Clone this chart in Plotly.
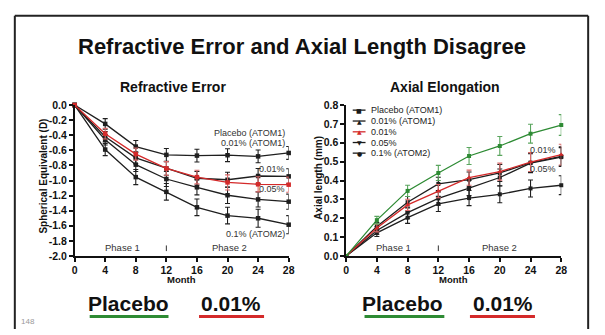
import plotly.graph_objects as go

W, H = 605, 335
FONT = "Liberation Sans, Arial, sans-serif"

months = [0, 4, 8, 12, 16, 20, 24, 28]

# ---- Refractive error (spherical equivalent, D) ----
re_atom1 = [0.0, -0.25, -0.55, -0.66, -0.67, -0.665, -0.68, -0.635]
re_001_black = [0.0, -0.42, -0.70, -0.84, -0.97, -0.99, -0.94, -0.945]
re_001_red = [0.0, -0.38, -0.65, -0.84, -0.955, -1.025, -1.05, -1.055]
re_005 = [0.0, -0.46, -0.79, -0.98, -1.09, -1.195, -1.25, -1.28]
re_01_atom2 = [0.0, -0.59, -0.955, -1.15, -1.355, -1.465, -1.50, -1.585]
re_err_atom1 = [0, 0.07, 0.08, 0.085, 0.085, 0.085, 0.085, 0.085]
re_err_001_black = [0, 0.07, 0.08, 0.09, 0.09, 0.10, 0.10, 0.10]
re_err_001_red = [0, 0.07, 0.08, 0.09, 0.09, 0.10, 0.10, 0.10]
re_err_005 = [0, 0.07, 0.09, 0.10, 0.10, 0.11, 0.10, 0.10]
re_err_01_atom2 = [0, 0.08, 0.10, 0.11, 0.11, 0.11, 0.12, 0.12]

# ---- Axial elongation (mm) ----
al_placebo = [0.0, 0.19, 0.345, 0.44, 0.53, 0.583, 0.648, 0.694]
al_001_atom1 = [0.0, 0.157, 0.285, 0.382, 0.405, 0.44, 0.495, 0.528]
al_001 = [0.0, 0.148, 0.271, 0.344, 0.415, 0.447, 0.498, 0.537]
al_005 = [0.0, 0.135, 0.23, 0.305, 0.36, 0.416, 0.492, 0.524]
al_01_atom2 = [0.0, 0.123, 0.203, 0.276, 0.307, 0.327, 0.358, 0.375]
al_err_placebo = [0, 0.02, 0.03, 0.04, 0.045, 0.05, 0.05, 0.055]
al_err_001_atom1 = [0, 0.02, 0.03, 0.035, 0.04, 0.045, 0.05, 0.05]
al_err_001 = [0, 0.02, 0.03, 0.035, 0.04, 0.045, 0.05, 0.055]
al_err_005 = [0, 0.02, 0.03, 0.035, 0.04, 0.045, 0.05, 0.05]
al_err_01_atom2 = [0, 0.02, 0.03, 0.04, 0.04, 0.045, 0.045, 0.05]

re_tickvals = [0.0, -0.2, -0.4, -0.6, -0.8, -1.0, -1.2, -1.4, -1.6, -1.8, -2.0]
re_ticktext = ["0.0", "-0.2", "-0.4", "-0.6", "-0.8", "-1.0", "-1.2", "-1.4", "-1.6", "-1.8", "-2.0"]
al_tickvals = [0.0, 0.1, 0.2, 0.3, 0.4, 0.5, 0.6, 0.7, 0.8]
al_ticktext = ["0.0", "0.1", "0.2", "0.3", "0.4", "0.5", "0.6", "0.7", "0.8"]

legend_names = ["Placebo (ATOM1)", "0.01% (ATOM1)", "0.01%", "0.05%", "0.1% (ATOM2)"]
legend_glyphs = ["■", "▲", "▲", "▼", "●"]
legend_colors = ["#1a1a1a", "#1a1a1a", "#d42a2a", "#1a1a1a", "#1a1a1a"]

BLACK = "#1f1f1f"
RED = "#d42a2a"
GREEN = "#2e8b34"


def fx(x):
    return x / W


def fy(y):
    return 1 - y / H


fig = go.Figure()


def add_series(y, err, color, xa, ya, symbol="square", msize=4.5, ecolor=None):
    fig.add_trace(go.Scatter(
        x=months, y=y, mode="lines+markers", xaxis=xa, yaxis=ya,
        line=dict(color=color, width=1.3),
        marker=dict(color=color, size=msize, symbol=symbol),
        error_y=dict(type="data", array=err, visible=True, color=ecolor or color,
                     thickness=1.1, width=2.5),
        cliponaxis=False, showlegend=False, hoverinfo="x+y"))


# left panel
add_series(re_atom1, re_err_atom1, BLACK, "x", "y")
add_series(re_01_atom2, re_err_01_atom2, BLACK, "x", "y")
add_series(re_005, re_err_005, BLACK, "x", "y")
add_series(re_001_black, re_err_001_black, BLACK, "x", "y")
add_series(re_001_red, re_err_001_red, RED, "x", "y", ecolor="#d86a6a")

# right panel
add_series(al_01_atom2, al_err_01_atom2, BLACK, "x2", "y2", msize=4)
add_series(al_005, al_err_005, BLACK, "x2", "y2", msize=4)
add_series(al_001_atom1, al_err_001_atom1, BLACK, "x2", "y2", msize=4)
add_series(al_001, al_err_001, RED, "x2", "y2", symbol="triangle-up", msize=4.5, ecolor="#d86a6a")
add_series(al_placebo, al_err_placebo, GREEN, "x2", "y2", msize=4, ecolor="#5aa55e")

axis_common = dict(
    showline=True, linecolor="#111", linewidth=1.5, ticks="outside", ticklen=4,
    tickwidth=1.5, tickcolor="#111", showgrid=False, zeroline=False,
    tickfont=dict(family=FONT, size=10.5, color="#111", weight="bold"),
)

ydom = [fy(259.3), fy(102.7)]
fig.update_layout(
    width=W, height=H, margin=dict(l=0, r=0, t=0, b=0),
    paper_bgcolor="white", plot_bgcolor="white", showlegend=False,
    font=dict(family=FONT, color="#111"),
    xaxis=dict(domain=[fx(72.7), fx(290)], range=[0, 28], tickvals=months,
               anchor="y", **axis_common),
    yaxis=dict(domain=ydom, range=[-2.0, 0.0], tickvals=re_tickvals,
               ticktext=re_ticktext, anchor="x", **axis_common),
    xaxis2=dict(domain=[fx(348.3), fx(566.7)], range=[0, 28], tickvals=months,
                anchor="y2", **axis_common),
    yaxis2=dict(domain=ydom, range=[0.0, 0.8], tickvals=al_tickvals,
                ticktext=al_ticktext, anchor="x2", **axis_common),
)

ann = []


def text(x, y, s, size, bold=False, color="#111", xanchor="center", angle=0,
         xref="paper", yref="paper", family=FONT):
    ann.append(dict(x=x, y=y, xref=xref, yref=yref, text=s, showarrow=False,
                    xanchor=xanchor, yanchor="middle", textangle=angle,
                    font=dict(family=family, size=size, color=color,
                              weight="bold" if bold else "normal")))


text(fx(304), fy(42), "Refractive Error and Axial Length Disagree", 22, bold=True)
text(fx(172.5), fy(83.5), "Refractive Error", 14, bold=True)
text(fx(449), fy(83.5), "Axial Elongation", 14, bold=True)
text(fx(41.5), fy(176), "Spherical Equivalent (D)", 10, bold=True, angle=-90)
text(fx(320), fy(178), "Axial length (mm)", 10, bold=True, angle=-90)
text(fx(181), fy(284), "Month", 9.5, bold=True)
text(fx(457.5), fy(284), "Month", 9.5, bold=True)

# phase labels
text(6.3, -1.89, "Phase 1", 9.5, color="#333", xref="x", yref="y")
text(20.3, -1.89, "Phase 2", 9.5, color="#333", xref="x", yref="y")
text(6.2, 0.046, "Phase 1", 9.5, color="#333", xref="x2", yref="y2")
text(20.0, 0.046, "Phase 2", 9.5, color="#333", xref="x2", yref="y2")

# curve labels, left
for s, y in [("Placebo (ATOM1)", 131.7), ("0.01% (ATOM1)", 141.7), ("0.01%", 169.3),
             ("0.05%", 190.0), ("0.1% (ATOM2)", 236.0)]:
    text(fx(288), fy(y), s, 9, color="#333", xanchor="right")
# curve labels, right
for s, y in [("0.01%", 149.0), ("0.05%", 169.3)]:
    text(fx(563), fy(y), s, 9, color="#333", xanchor="right")

# manual legend (right panel)
shapes = []
leg_y = [108, 119.3, 130.5, 141.6, 152.6]
for name, glyph, col, y in zip(legend_names, legend_glyphs, legend_colors, leg_y):
    shapes.append(dict(type="line", xref="paper", yref="paper", x0=fx(355), x1=fx(368),
                       y0=fy(y), y1=fy(y), line=dict(color=col, width=1.3)))
    text(fx(361.5), fy(y), glyph, 6, color=col, family="DejaVu Sans")
    text(fx(372), fy(y), name, 9, color="#222", xanchor="left")

# bottom labels
text(fx(127), fy(309), "Placebo", 21, bold=True)
text(fx(231.5), fy(309), "0.01%", 21, bold=True)
text(fx(406), fy(309), "Placebo", 21, bold=True)
text(fx(508), fy(309), "0.01%", 21, bold=True)
text(fx(16), fy(327), "148", 8, color="#9a9a9a", xanchor="left")

for x0, x1, col in [(88, 168, GREEN), (199, 265, RED), (367, 448, GREEN), (474, 540, RED)]:
    shapes.append(dict(type="line", xref="paper", yref="paper", x0=fx(x0), x1=fx(x1),
                       y0=fy(322), y1=fy(322), line=dict(color=col, width=3)))

# phase dividers
shapes.append(dict(type="line", xref="x", yref="y", x0=12, x1=12, y0=-1.935, y1=-1.86,
                   line=dict(color="#333", width=1)))
shapes.append(dict(type="line", xref="x2", yref="y2", x0=12, x1=12, y0=0.026, y1=0.056,
                   line=dict(color="#333", width=1)))

# slide frame
frame = dict(color="#222", width=2)
shapes.append(dict(type="line", xref="paper", yref="paper", x0=fx(12), x1=fx(12),
                   y0=fy(10), y1=0, line=frame))
shapes.append(dict(type="line", xref="paper", yref="paper", x0=fx(12), x1=fx(594),
                   y0=fy(10), y1=fy(10), line=frame))
shapes.append(dict(type="line", xref="paper", yref="paper", x0=fx(594), x1=fx(594),
                   y0=fy(10), y1=0, line=frame))

fig.update_layout(annotations=ann, shapes=shapes)
fig.write_html("out.html", config={"displayModeBar": False},
               post_script="document.body.style.margin='0';document.body.style.overflow='hidden';")
